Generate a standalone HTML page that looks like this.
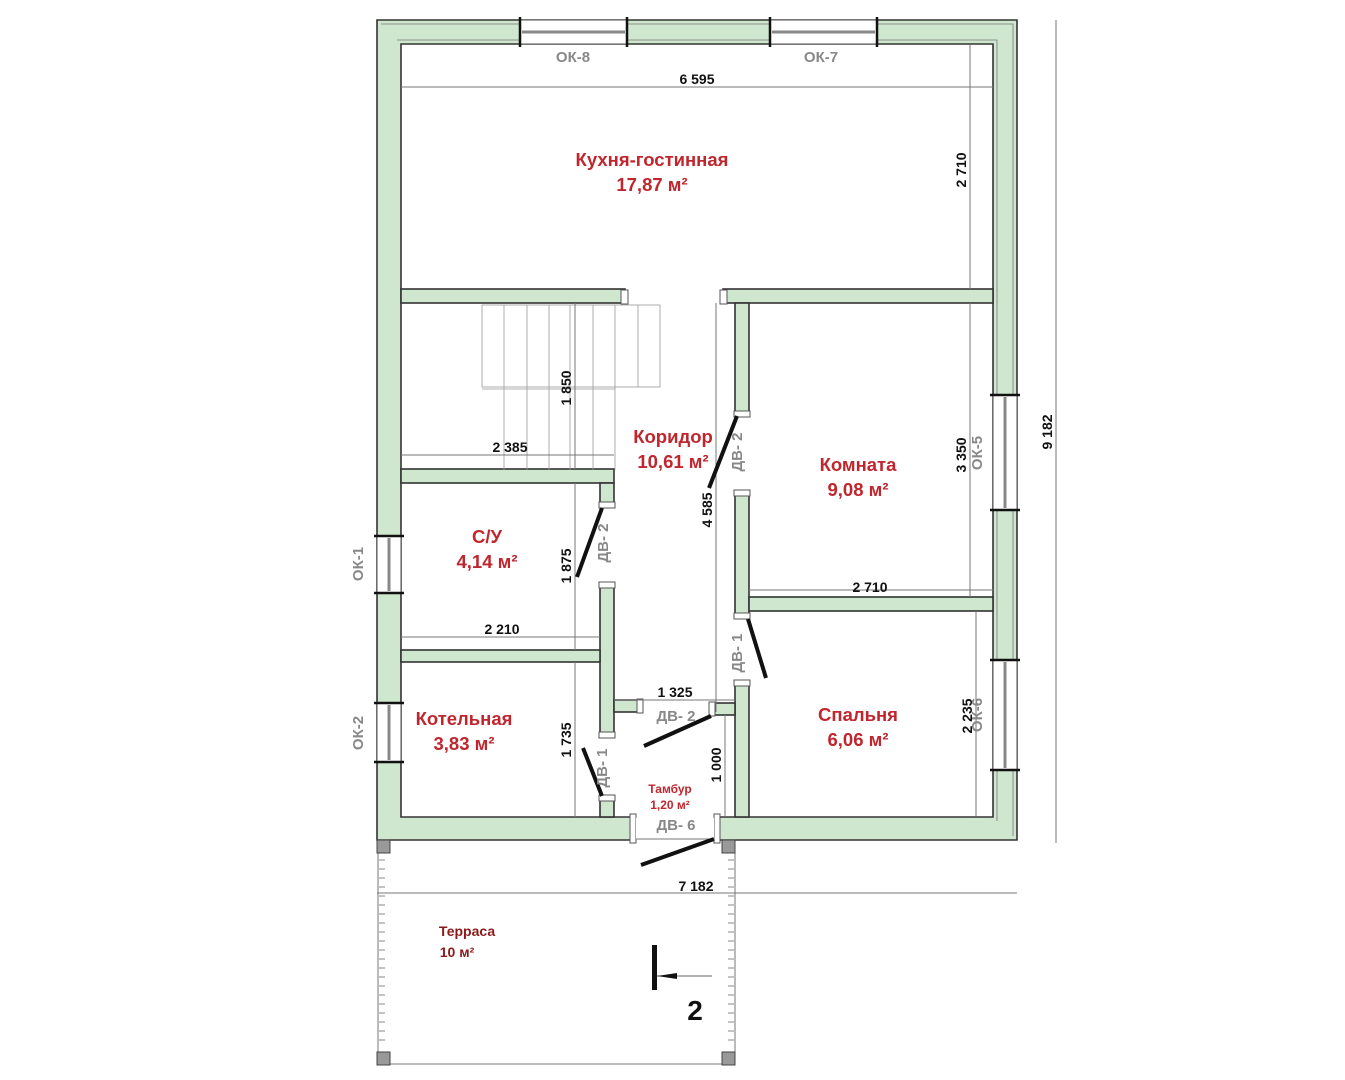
<!DOCTYPE html>
<html><head><meta charset="utf-8"><style>
html,body{margin:0;padding:0;background:#fff;}
svg{display:block;}
text{font-family:"Liberation Sans",sans-serif;}
.r{fill:#c0262e;font-weight:bold;font-size:18.5px;text-anchor:middle;}
.d{fill:#111;font-weight:bold;font-size:14px;text-anchor:middle;}
.g{fill:#888;font-weight:bold;font-size:15px;text-anchor:middle;}
.w{fill:#cfe6cf;stroke:#333;stroke-width:1.6;}
.dim{stroke:#777;stroke-width:1;fill:none;}
.sw{stroke:#111;stroke-width:4;}
.st{stroke:#999;stroke-width:0.8;fill:none;}
.win{fill:#fff;stroke:#555;stroke-width:1;}
</style></head><body>
<svg width="1345" height="1080" viewBox="0 0 1345 1080" xmlns="http://www.w3.org/2000/svg">
<path class="w" fill-rule="evenodd" d="M377 20 H1017 V840 H717 V817 H993 V44 H401 V817 H633 V840 H377 Z"/>
<path d="M381 24 H1013 V836 M397 40 H997 V821" stroke="#777" stroke-width="0.8" fill="none"/>
<rect class="w" x="401" y="289" width="224" height="14"/>
<rect class="w" x="723" y="289" width="270" height="14"/>
<rect class="w" x="735" y="303" width="14" height="112"/>
<rect class="w" x="735" y="493" width="14" height="122"/>
<rect class="w" x="749" y="597" width="244" height="14"/>
<rect class="w" x="735" y="683" width="14" height="134"/>
<rect class="w" x="712" y="703" width="23" height="12"/>
<rect class="w" x="401" y="469" width="213" height="14"/>
<rect class="w" x="600" y="483" width="14" height="22"/>
<rect class="w" x="600" y="585" width="14" height="150"/>
<rect class="w" x="401" y="650" width="199" height="12"/>
<rect class="w" x="614" y="700" width="26" height="12"/>
<rect class="w" x="600" y="798" width="14" height="19"/>
<g fill="#fff" stroke="#555" stroke-width="1">
<rect x="621" y="290" width="7" height="14"/><rect x="720" y="290" width="7" height="14"/>
<rect x="734" y="411" width="16" height="6"/><rect x="734" y="490" width="16" height="6"/>
<rect x="734" y="613" width="16" height="6"/><rect x="734" y="680" width="16" height="6"/>
<rect x="599" y="502" width="16" height="6"/><rect x="599" y="582" width="16" height="6"/>
<rect x="599" y="732" width="16" height="6"/><rect x="599" y="795" width="16" height="6"/>
<rect x="637" y="699" width="6" height="14"/><rect x="709" y="702" width="6" height="14"/>
<rect x="630" y="814" width="6" height="29"/><rect x="714" y="814" width="6" height="29"/>
</g>
<rect x="636" y="818" width="78" height="21" fill="#fff"/>
<line x1="636" y1="839" x2="714" y2="839" stroke="#777"/>
<g>
<rect class="win" x="520" y="20" width="107" height="24"/><line x1="522" y1="32" x2="625" y2="32" stroke="#888" stroke-width="3"/>
<rect class="win" x="770" y="20" width="107" height="24"/><line x1="772" y1="32" x2="875" y2="32" stroke="#888" stroke-width="3"/>
<rect class="win" x="377" y="536" width="24" height="57"/><line x1="389" y1="538" x2="389" y2="591" stroke="#888" stroke-width="3"/>
<rect class="win" x="377" y="703" width="24" height="59"/><line x1="389" y1="705" x2="389" y2="760" stroke="#888" stroke-width="3"/>
<rect class="win" x="993" y="395" width="24" height="115"/><line x1="1005" y1="397" x2="1005" y2="508" stroke="#888" stroke-width="3"/>
<rect class="win" x="993" y="660" width="24" height="110"/><line x1="1005" y1="662" x2="1005" y2="768" stroke="#888" stroke-width="3"/>
</g>
<g stroke="#111" stroke-width="2.5">
<line x1="520" y1="17" x2="520" y2="47"/><line x1="627" y1="17" x2="627" y2="47"/>
<line x1="770" y1="17" x2="770" y2="47"/><line x1="877" y1="17" x2="877" y2="47"/>
<line x1="374" y1="536" x2="404" y2="536"/><line x1="374" y1="593" x2="404" y2="593"/>
<line x1="374" y1="703" x2="404" y2="703"/><line x1="374" y1="762" x2="404" y2="762"/>
<line x1="990" y1="395" x2="1020" y2="395"/><line x1="990" y1="510" x2="1020" y2="510"/>
<line x1="990" y1="660" x2="1020" y2="660"/><line x1="990" y1="770" x2="1020" y2="770"/>
</g>
<g class="st">
<rect x="482" y="305" width="178" height="82"/>
<line x1="504" y1="305" x2="504" y2="470"/><line x1="527" y1="305" x2="527" y2="470"/>
<line x1="549" y1="305" x2="549" y2="470"/><line x1="570" y1="305" x2="570" y2="470"/>
<line x1="593" y1="305" x2="593" y2="470"/><line x1="615" y1="305" x2="615" y2="470"/>
<line x1="638" y1="305" x2="638" y2="387"/>
<line x1="482" y1="389" x2="615" y2="389"/>
</g>
<g class="dim">
<line x1="401" y1="87" x2="993" y2="87"/>
<line x1="970" y1="45" x2="970" y2="289"/>
<line x1="575" y1="303" x2="575" y2="469"/>
<line x1="401" y1="455" x2="614" y2="455"/>
<line x1="575" y1="483" x2="575" y2="650"/>
<line x1="401" y1="637" x2="600" y2="637"/>
<line x1="575" y1="662" x2="575" y2="817"/>
<line x1="614" y1="700" x2="735" y2="700"/>
<line x1="716" y1="303" x2="716" y2="712"/>
<line x1="725" y1="715" x2="725" y2="817"/>
<line x1="970" y1="303" x2="970" y2="597"/>
<line x1="749" y1="590" x2="993" y2="590"/>
<line x1="976" y1="611" x2="976" y2="817"/>
<line x1="1056" y1="20" x2="1056" y2="843"/>
<line x1="377" y1="893" x2="1017" y2="893"/>
</g>
<g class="sw">
<line x1="737" y1="416" x2="709" y2="488"/>
<line x1="602" y1="508" x2="577" y2="577"/>
<line x1="748" y1="619" x2="766" y2="678"/>
<line x1="711" y1="716" x2="644" y2="746"/>
<line x1="583" y1="748" x2="602" y2="796"/>
<line x1="714" y1="839" x2="641" y2="865"/>
</g>
<g stroke="#777" fill="none" stroke-width="1">
<line x1="378" y1="843" x2="378" y2="1064"/>
<line x1="735" y1="843" x2="735" y2="1064"/>
<line x1="378" y1="1064" x2="735" y2="1064"/>
</g>
<g fill="#999" stroke="#444" stroke-width="1">
<rect x="377" y="840" width="13" height="13"/><rect x="722" y="840" width="13" height="13"/>
<rect x="377" y="1052" width="13" height="13"/><rect x="722" y="1052" width="13" height="13"/>
</g>
<g stroke="#888" stroke-width="1" fill="none">
<path d="M379 860h6M379 869h6M379 878h6M379 887h6M379 896h6M379 905h6M379 914h6M379 923h6M379 932h6M379 941h6M379 950h6M379 959h6M379 968h6M379 977h6M379 986h6M379 995h6M379 1004h6M379 1013h6M379 1022h6M379 1031h6M379 1040h6"/>
<path d="M728 860h6M728 869h6M728 878h6M728 887h6M728 896h6M728 905h6M728 914h6M728 923h6M728 932h6M728 941h6M728 950h6M728 959h6M728 968h6M728 977h6M728 986h6M728 995h6M728 1004h6M728 1013h6M728 1022h6M728 1031h6M728 1040h6"/>
</g>
<rect x="652" y="945" width="5" height="45" fill="#111"/>
<line x1="657" y1="976" x2="712" y2="976" stroke="#666" stroke-width="1"/>
<polygon points="657,976 677,973 677,979" fill="#111"/>
<text x="695" y="1020" font-size="28" font-weight="bold" text-anchor="middle" fill="#111">2</text>
<text class="r" x="652" y="166">Кухня-гостинная</text>
<text class="r" x="652" y="191">17,87 м²</text>
<text class="r" x="673" y="443">Коридор</text>
<text class="r" x="673" y="468">10,61 м²</text>
<text class="r" x="858" y="471">Комната</text>
<text class="r" x="858" y="496">9,08 м²</text>
<text class="r" x="487" y="543">С/У</text>
<text class="r" x="487" y="568">4,14 м²</text>
<text class="r" x="464" y="725">Котельная</text>
<text class="r" x="464" y="750">3,83 м²</text>
<text class="r" x="858" y="721">Спальня</text>
<text class="r" x="858" y="746">6,06 м²</text>
<text x="670" y="793" font-size="12" font-weight="bold" fill="#c0262e" text-anchor="middle">Тамбур</text>
<text x="670" y="809" font-size="12" font-weight="bold" fill="#c0262e" text-anchor="middle">1,20 м²</text>
<text x="467" y="936" font-size="14" font-weight="bold" fill="#8b1a1a" text-anchor="middle">Терраса</text>
<text x="457" y="957" font-size="14" font-weight="bold" fill="#8b1a1a" text-anchor="middle">10 м²</text>
<text class="g" x="573" y="62">ОК-8</text>
<text class="g" x="821" y="62">ОК-7</text>
<text class="g" x="676" y="721">ДВ- 2</text>
<text class="g" x="676" y="830">ДВ- 6</text>
<text class="g" transform="translate(363,564) rotate(-90)">ОК-1</text>
<text class="g" transform="translate(363,733) rotate(-90)">ОК-2</text>
<text class="g" transform="translate(982,453) rotate(-90)">ОК-5</text>
<text class="g" transform="translate(982,715) rotate(-90)">ОК-6</text>
<text class="g" transform="translate(742,452) rotate(-90)">ДВ- 2</text>
<text class="g" transform="translate(608,543) rotate(-90)">ДВ- 2</text>
<text class="g" transform="translate(742,653) rotate(-90)">ДВ- 1</text>
<text class="g" transform="translate(607,768) rotate(-90)">ДВ- 1</text>
<text class="d" x="697" y="84">6 595</text>
<text class="d" transform="translate(966,170) rotate(-90)">2 710</text>
<text class="d" transform="translate(571,388) rotate(-90)">1 850</text>
<text class="d" x="510" y="452">2 385</text>
<text class="d" transform="translate(571,566) rotate(-90)">1 875</text>
<text class="d" x="502" y="634">2 210</text>
<text class="d" transform="translate(571,740) rotate(-90)">1 735</text>
<text class="d" x="675" y="697">1 325</text>
<text class="d" transform="translate(712,510) rotate(-90)">4 585</text>
<text class="d" transform="translate(721,765) rotate(-90)">1 000</text>
<text class="d" transform="translate(966,455) rotate(-90)">3 350</text>
<text class="d" x="870" y="592">2 710</text>
<text class="d" transform="translate(972,716) rotate(-90)">2 235</text>
<text class="d" transform="translate(1052,432) rotate(-90)">9 182</text>
<text class="d" x="696" y="891">7 182</text>
</svg>
</body></html>
